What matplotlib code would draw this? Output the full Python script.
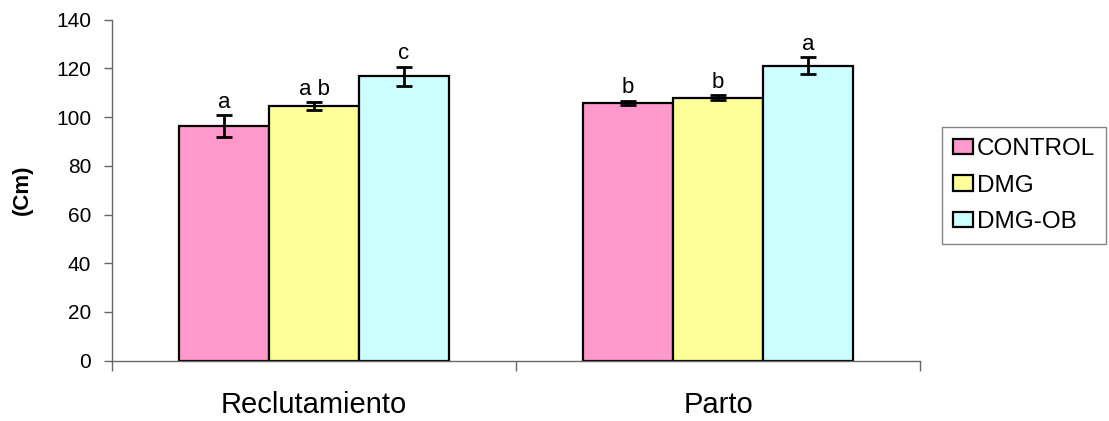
import matplotlib
matplotlib.use("Agg")
import matplotlib.pyplot as plt
import numpy as np

plt.rcParams['font.family'] = ['Liberation Sans', 'DejaVu Sans']

categories = ["Reclutamiento", "Parto"]
series = ["CONTROL", "DMG", "DMG-OB"]
values = {
    "CONTROL": [96.3, 105.8],
    "DMG": [104.5, 107.9],
    "DMG-OB": [116.8, 121.1],
}
errors = {
    "CONTROL": [4.4, 1.0],
    "DMG": [1.7, 1.0],
    "DMG-OB": [3.9, 3.4],
}
letters = {
    "CONTROL": ["a", "b"],
    "DMG": ["a b", "b"],
    "DMG-OB": ["c", "a"],
}
colors = {"CONTROL": "#FF99CC", "DMG": "#FFFF99", "DMG-OB": "#CCFFFF"}

fig = plt.figure(figsize=(11.09, 4.21), dpi=100)
ax = fig.add_axes([0.101, 0.1432, 0.7286, 0.81])

width = 0.2225
centers = np.arange(len(categories)) + 0.5
for i, s in enumerate(series):
    x = centers + (i - 1) * width
    ax.bar(x, values[s], width=width, color=colors[s], edgecolor="black",
           linewidth=1.6, label=s, zorder=2)
    ax.errorbar(x, values[s], yerr=errors[s], fmt="none", ecolor="black",
                elinewidth=2, capsize=5.8, capthick=2, zorder=3)
    for xi, v, e, t in zip(x, values[s], errors[s], letters[s]):
        ax.text(xi, v + e + 3.0, t, ha="center", va="baseline", fontsize=16)

ax.set_xlim(0, 2)
ax.set_ylim(0, 140)
ax.set_yticks(range(0, 141, 20))
ax.tick_params(axis="y", labelsize=15, direction="out", length=6, color="#666666",
               width=1, pad=9)
ax.set_xticks([0, 1, 2])
ax.set_xticklabels([])
ax.set_xticks(centers, minor=True)
ax.set_xticklabels(categories, minor=True, fontsize=21)
ax.tick_params(axis="x", which="major", direction="out", length=7, color="#666666", width=1)
ax.tick_params(axis="x", which="minor", length=0, pad=22)
for sp in ["top", "right"]:
    ax.spines[sp].set_visible(False)
for sp in ["left", "bottom"]:
    ax.spines[sp].set_color("#666666")
    ax.spines[sp].set_linewidth(1)
ax.set_ylabel("(Cm)", fontsize=16, fontweight="bold")
ax.yaxis.set_label_coords(-0.098, 0.5)

leg = ax.legend(loc="upper left", bbox_to_anchor=(1.027, 0.685), fontsize=17.5,
                frameon=True, fancybox=False, edgecolor="#666666",
                handlelength=0.85, handleheight=0.6, handletextpad=0.15,
                borderpad=0.45, labelspacing=0.6, borderaxespad=0)
leg.get_frame().set_linewidth(1)
for h in leg.legend_handles:
    h.set_linewidth(1.6)

fig.savefig("out.png", dpi=100)
